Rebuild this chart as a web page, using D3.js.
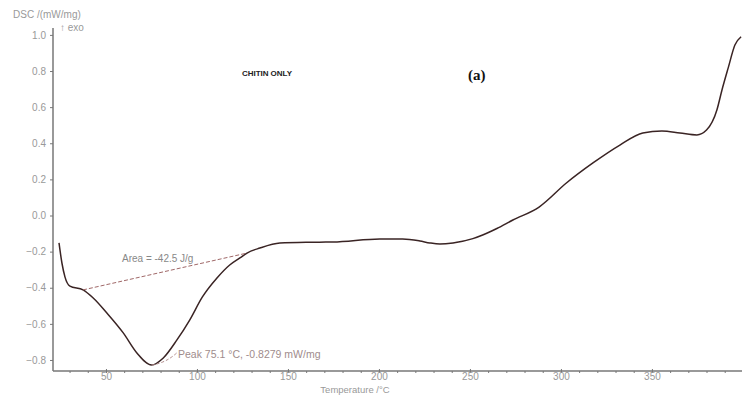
<!DOCTYPE html>
<html>
<head>
<meta charset="utf-8">
<script src="https://cdn.jsdelivr.net/npm/d3@7"></script>
<style>
  body { margin: 0; background: #fff; }
  svg { display: block; font-family: "Liberation Sans", "DejaVu Sans", sans-serif; }
  .tick text { fill: #999; font-size: 10px; }
  .axis path, .axis line { stroke: #777; }
</style>
</head>
<body>
<svg class="dsc" width="742" height="401"></svg>
<script>
// temperature (°C) and DSC signal (mW/mg)
const temps = [24.2, 25.8, 27.5, 30.2, 37.4, 43, 50.5, 59.5, 67, 75.1, 81.5, 89, 96, 103, 111, 118,
    123.6, 127.5, 134.6, 145.6, 160, 174.7, 200.5, 213, 222.5, 228, 233.5, 240.7, 251.6, 257,
    264.8, 273.6, 288, 303, 317.6, 332.4, 345, 355.5, 365.4, 374.7, 380, 385.7, 388.5, 392, 395.6, 399];
const dscValues = [-0.152, -0.263, -0.341, -0.391, -0.412, -0.457, -0.54, -0.65, -0.761, -0.828, -0.789,
    -0.689, -0.579, -0.451, -0.346, -0.274, -0.235, -0.208, -0.18, -0.152, -0.148, -0.147, -0.13,
    -0.13, -0.141, -0.152, -0.158, -0.152, -0.128, -0.108, -0.072, -0.025, 0.047, 0.18, 0.291,
    0.39, 0.457, 0.468, 0.457, 0.446, 0.473, 0.584, 0.695, 0.82, 0.944, 0.99];
const yTicks = [1.0, 0.8, 0.6, 0.4, 0.2, 0.0, -0.2, -0.4, -0.6, -0.8];
const xTicks = [50, 100, 150, 200, 250, 300, 350];
const xMinorTicks = d3.range(30, 400, 10);
const areaBaseline = [[37.4, -0.412], [127.5, -0.208]];
const peak = { t: 75.1, v: -0.828 };

const svg = d3.select('.dsc');
const x = d3.scaleLinear().domain([20.9, 399.5]).range([53, 742]);
const y = d3.scaleLinear().domain([0, 1]).range([215.5, 34.9]);
const axisY = 371;

// x axis with minor ticks
svg.append('g')
    .attr('class', 'axis')
    .attr('transform', `translate(0, ${axisY})`)
    .call(d3.axisBottom(x).tickValues(xMinorTicks).tickSize(2).tickFormat(''))
    .call(g => g.select('.domain').remove());
svg.append('g')
    .attr('class', 'axis')
    .attr('transform', `translate(0, ${axisY})`)
    .call(d3.axisBottom(x).tickValues(xTicks).tickSizeOuter(0).tickSizeInner(2).tickPadding(0).tickFormat(d3.format('d')))
    .call(g => g.select('.domain').attr('d', `M${x.range()[0]},0H${x.range()[1]}`).attr('stroke-width', 1.5))
    .call(g => g.selectAll('.tick line').attr('y1', -2));

// y axis
svg.append('g')
    .attr('class', 'axis')
    .attr('transform', `translate(${x.range()[0]}, 0)`)
    .call(d3.axisLeft(y).tickValues(yTicks).tickSizeOuter(0).tickSizeInner(3).tickPadding(4).tickFormat(d3.format('.1f')))
    .call(g => g.select('.domain').attr('d', `M0,28V${axisY}`).attr('stroke-width', 1.5));

// DSC curve
const line = d3.line()
    .x((d, i) => x(temps[i]))
    .y(d => y(d))
    .curve(d3.curveMonotoneX);
svg.append('path')
    .datum(dscValues)
    .attr('d', line)
    .attr('fill', 'none')
    .attr('stroke', '#3a2424')
    .attr('stroke-width', 1.5);

// integration baseline
svg.append('line')
    .attr('x1', x(areaBaseline[0][0])).attr('y1', y(areaBaseline[0][1]))
    .attr('x2', x(areaBaseline[1][0])).attr('y2', y(areaBaseline[1][1]))
    .attr('stroke', '#a06868')
    .attr('stroke-dasharray', '4,2');

// peak leader
svg.append('path')
    .attr('d', `M${x(peak.t)},${y(peak.v)}Q${x(peak.t) + 14},${y(peak.v) - 2} ${x(peak.t) + 25},${y(peak.v) - 12}`)
    .attr('fill', 'none')
    .attr('stroke', '#b08a8a')
    .attr('stroke-dasharray', '3,2');

// annotations
svg.append('text').attr('x', 122).attr('y', 262).attr('font-size', 10).attr('fill', '#888')
    .text('Area = -42.5 J/g');
svg.append('text').attr('x', 178).attr('y', 358).attr('font-size', 10.5).attr('fill', '#a08c8c')
    .text('Peak 75.1 °C, -0.8279 mW/mg');
svg.append('text').attr('x', 242).attr('y', 76).attr('font-size', 8).attr('font-weight', 'bold')
    .attr('fill', '#222').attr('textLength', 50)
    .text('CHITIN ONLY');
svg.append('text').attr('x', 468).attr('y', 80).attr('font-size', 15).attr('font-weight', 'bold')
    .attr('font-family', '"Liberation Serif", serif').attr('fill', '#111')
    .text('(a)');
svg.append('text').attr('x', 13).attr('y', 18).attr('font-size', 10).attr('fill', '#999')
    .text('DSC /(mW/mg)');
svg.append('text').attr('x', 60).attr('y', 31).attr('font-size', 10).attr('fill', '#999')
    .text('↑ exo');
svg.append('text').attr('x', 355).attr('y', 393).attr('font-size', 9.5).attr('fill', '#999')
    .attr('text-anchor', 'middle')
    .text('Temperature /°C');
</script>
</body>
</html>
